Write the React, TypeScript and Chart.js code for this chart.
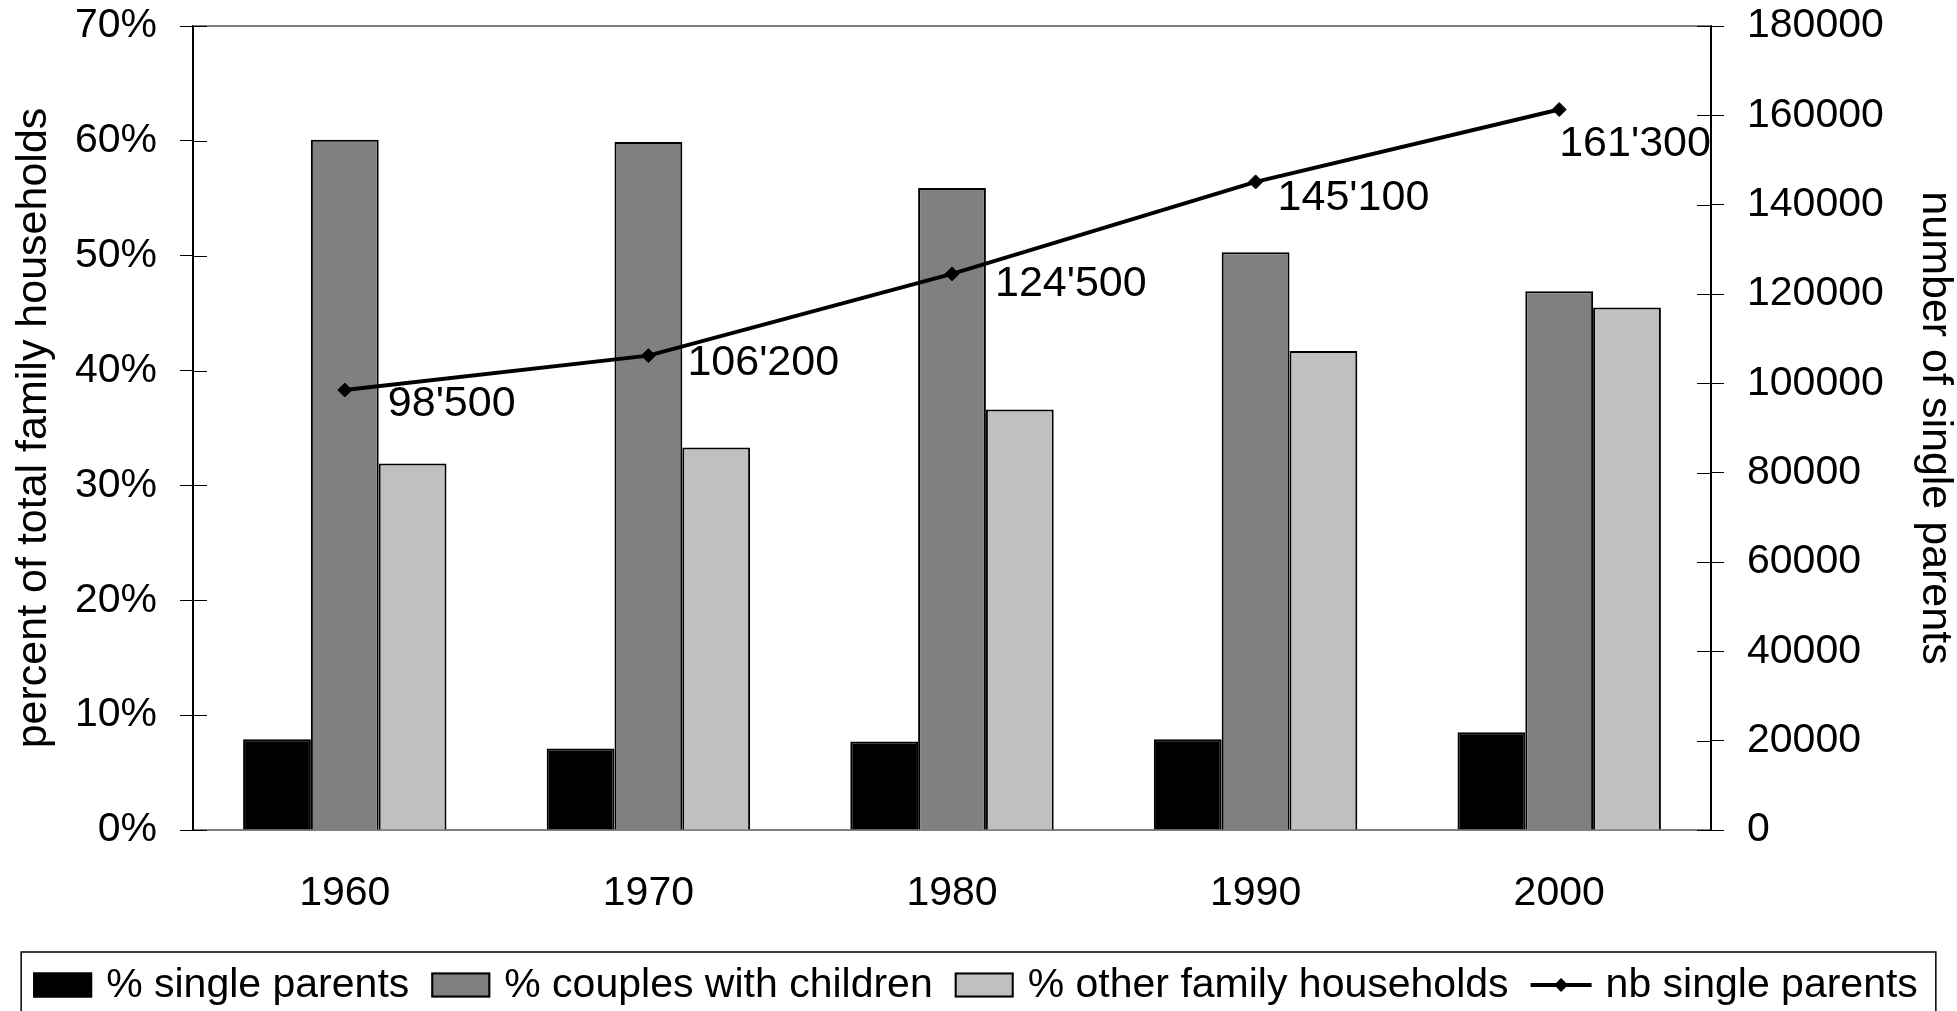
import React, { useEffect, useRef } from "react";
import { Chart, registerables } from "chart.js";

Chart.register(...registerables);

// ---- data ----
const YEARS = ["1960", "1970", "1980", "1990", "2000"];
const PCT_SINGLE_PARENTS = [7.9, 7.1, 7.7, 7.9, 8.5];
const PCT_COUPLES_WITH_CHILDREN = [60.1, 59.9, 55.9, 50.3, 46.9];
const PCT_OTHER_FAMILY_HOUSEHOLDS = [31.9, 33.3, 36.6, 41.7, 45.5];
const NB_SINGLE_PARENTS = [98500, 106200, 124500, 145100, 161300];

const SERIES_LABELS = [
  "% single parents",
  "% couples with children",
  "% other family households",
  "nb single parents",
];
const LEFT_AXIS_TITLE = "percent of total family households";
const RIGHT_AXIS_TITLE = "number of single parents";

// ---- layout / style constants (not data) ----
const W = 1957;
const H = 1011;
const FONT_FAMILY = '"Liberation Sans", Arial, sans-serif';
const FONT_SIZE = 41;
const BIG_FONT_SIZE = 43;
const LABEL_DX = [43, 39, 43, 22, 0];
const LABEL_DY = [26, 19, 22, 28, 46];

const fmtThousands = (n: number) =>
  String(n).replace(/\B(?=(\d{3})+(?!\d))/g, "'");

const decorPlugin = {
  id: "decor",
  afterDraw(chart: any) {
    const ctx = chart.ctx;
    const area = chart.chartArea;
    ctx.save();

    // top border of plot area
    ctx.strokeStyle = "#808080";
    ctx.lineWidth = 2;
    ctx.beginPath();
    ctx.moveTo(area.left, area.top);
    ctx.lineTo(area.right, area.top);
    ctx.stroke();

    // inner half of tick marks
    ctx.strokeStyle = "#000";
    ctx.lineWidth = 1;
    const ys = chart.scales.y;
    ys.ticks.forEach((t: any) => {
      const py = Math.round(ys.getPixelForValue(t.value)) + 0.5;
      ctx.beginPath();
      ctx.moveTo(area.left, py);
      ctx.lineTo(area.left + 14, py);
      ctx.stroke();
    });
    const ys1 = chart.scales.y1;
    ys1.ticks.forEach((t: any) => {
      const py = Math.round(ys1.getPixelForValue(t.value)) + 0.5;
      ctx.beginPath();
      ctx.moveTo(area.right - 14, py);
      ctx.lineTo(area.right, py);
      ctx.stroke();
    });

    // data labels for the line
    const lineIndex = 3;
    const meta = chart.getDatasetMeta(lineIndex);
    const values = chart.data.datasets[lineIndex].data;
    ctx.font = `${BIG_FONT_SIZE}px ${FONT_FAMILY}`;
    ctx.fillStyle = "#000";
    ctx.textAlign = "left";
    ctx.textBaseline = "alphabetic";
    meta.data.forEach((pt: any, i: number) => {
      ctx.fillText(fmtThousands(values[i]), pt.x + LABEL_DX[i], pt.y + LABEL_DY[i]);
    });

    // legend
    ctx.font = `${FONT_SIZE}px ${FONT_FAMILY}`;
    const datasets = chart.data.datasets;
    const gapIconText = 14;
    const gapItems = 22;
    const items = datasets.map((ds: any) => {
      const isLine = ds.type === "line";
      const iconW = isLine ? 61 : 59;
      const textW = ctx.measureText(ds.label).width;
      return { ds, isLine, iconW, textW };
    });
    const total =
      items.reduce((s: number, it: any) => s + it.iconW + gapIconText + it.textW, 0) +
      gapItems * (items.length - 1);
    const startX = (chart.width - total) / 2 - 3;
    const legendTop = chart.height - 59;
    const iconY = legendTop + 33;
    const baseY = legendTop + 45;

    ctx.strokeStyle = "#000";
    ctx.lineWidth = 1.5;
    ctx.strokeRect(startX - 12, legendTop, total + 30, 80);

    let x = startX;
    items.forEach((it: any) => {
      if (it.isLine) {
        ctx.strokeStyle = it.ds.borderColor;
        ctx.lineWidth = 4;
        ctx.beginPath();
        ctx.moveTo(x, iconY);
        ctx.lineTo(x + it.iconW, iconY);
        ctx.stroke();
        const cx = x + it.iconW / 2;
        const r = 7;
        ctx.fillStyle = it.ds.pointBackgroundColor;
        ctx.beginPath();
        ctx.moveTo(cx - r, iconY);
        ctx.lineTo(cx, iconY - r);
        ctx.lineTo(cx + r, iconY);
        ctx.lineTo(cx, iconY + r);
        ctx.closePath();
        ctx.fill();
      } else {
        ctx.fillStyle = it.ds.backgroundColor;
        ctx.fillRect(x, iconY - 12.5, it.iconW, 25);
        ctx.strokeStyle = "#000";
        ctx.lineWidth = 2;
        ctx.strokeRect(x + 1, iconY - 11.5, it.iconW - 2, 23);
      }
      x += it.iconW + gapIconText;
      ctx.fillStyle = "#000";
      ctx.fillText(it.ds.label, x, baseY);
      x += it.textW + gapItems;
    });

    ctx.restore();
  },
};

export default function App() {
  const canvasRef = useRef<HTMLCanvasElement | null>(null);

  useEffect(() => {
    document.body.style.margin = "0";
    const canvas = canvasRef.current;
    if (!canvas) return;
    const font = { family: FONT_FAMILY, size: FONT_SIZE };
    const titleFont = { family: FONT_FAMILY, size: BIG_FONT_SIZE };

    const chart = new Chart(canvas, {
      type: "bar",
      data: {
        labels: YEARS,
        datasets: [
          {
            type: "bar",
            label: SERIES_LABELS[0],
            data: PCT_SINGLE_PARENTS,
            yAxisID: "y",
            backgroundColor: "#000000",
            borderColor: "#000000",
            borderWidth: 2,
            categoryPercentage: 0.67,
            barPercentage: 1,
          },
          {
            type: "bar",
            label: SERIES_LABELS[1],
            data: PCT_COUPLES_WITH_CHILDREN,
            yAxisID: "y",
            backgroundColor: "#808080",
            borderColor: "#000000",
            borderWidth: 2,
            categoryPercentage: 0.67,
            barPercentage: 1,
          },
          {
            type: "bar",
            label: SERIES_LABELS[2],
            data: PCT_OTHER_FAMILY_HOUSEHOLDS,
            yAxisID: "y",
            backgroundColor: "#C0C0C0",
            borderColor: "#000000",
            borderWidth: 2,
            categoryPercentage: 0.67,
            barPercentage: 1,
          },
          {
            type: "line",
            label: SERIES_LABELS[3],
            data: NB_SINGLE_PARENTS,
            yAxisID: "y1",
            borderColor: "#000000",
            borderWidth: 4,
            pointStyle: "rectRot",
            pointRadius: 7,
            pointBackgroundColor: "#000000",
            pointBorderColor: "#000000",
            pointBorderWidth: 1,
            tension: 0,
            fill: false,
            order: -1,
          } as any,
        ],
      },
      options: {
        responsive: false,
        animation: false,
        layout: { padding: { top: 26, left: 0, right: 0, bottom: 0 } },
        plugins: {
          legend: { display: false },
          tooltip: { enabled: false },
        },
        scales: {
          x: {
            offset: true,
            grid: { display: true, drawOnChartArea: false, drawTicks: false },
            border: { display: true, color: "#808080", width: 2 },
            ticks: { padding: 39, color: "#000", font },
            afterFit: (s: any) => {
              s.height = 181;
              s.paddingLeft = 0;
              s.paddingRight = 0;
            },
          },
          y: {
            position: "left",
            min: 0,
            max: 70,
            ticks: {
              stepSize: 10,
              padding: 23,
              color: "#000",
              font,
              callback: (v: any) => `${v}%`,
            },
            grid: {
              drawOnChartArea: false,
              drawTicks: true,
              tickLength: 13,
              color: "#000",
              lineWidth: 1,
            },
            border: { display: true, color: "#000", width: 2 },
            title: {
              display: true,
              text: LEFT_AXIS_TITLE,
              color: "#000",
              font: titleFont,
              padding: { top: 8, bottom: 0 },
            },
            afterFit: (s: any) => {
              s.width = 193;
              s.paddingTop = 0;
              s.paddingBottom = 0;
            },
          },
          y1: {
            position: "right",
            min: 0,
            max: 180000,
            ticks: {
              stepSize: 20000,
              padding: 23,
              color: "#000",
              font,
              callback: (v: any) => `${v}`,
            },
            grid: {
              drawOnChartArea: false,
              drawTicks: true,
              tickLength: 13,
              color: "#000",
              lineWidth: 1,
            },
            border: { display: true, color: "#000", width: 2 },
            title: {
              display: true,
              text: RIGHT_AXIS_TITLE,
              color: "#000",
              font: titleFont,
              padding: { top: -4, bottom: 0 },
            },
            afterFit: (s: any) => {
              s.width = 246;
              s.paddingTop = 0;
              s.paddingBottom = 0;
            },
          },
        },
      } as any,
      plugins: [decorPlugin],
    });

    return () => {
      chart.destroy();
    };
  }, []);

  return (
    <div style={{ width: W, height: H, background: "#fff" }}>
      <canvas ref={canvasRef} width={W} height={H} style={{ display: "block" }} />
    </div>
  );
}
